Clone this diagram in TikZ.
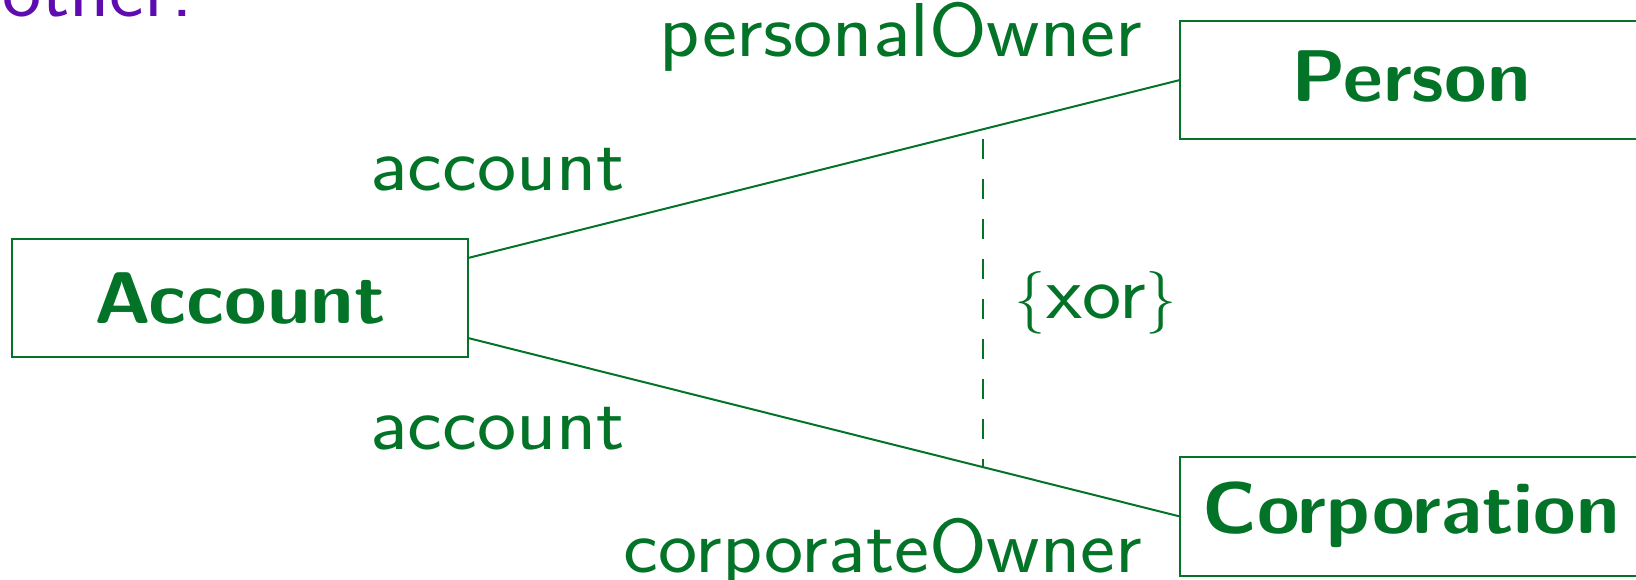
\documentclass[tikz,border=0pt]{standalone}
\usepackage{graphicx}
\usetikzlibrary{calc}
\definecolor{umlgreen}{RGB}{3,115,40}
\definecolor{slidepurple}{RGB}{94,12,178}
\newcommand\widereg[1]{\scalebox{1.09}[1]{#1}}
\newcommand\widebold[1]{\scalebox{1.06}[1]{#1}}
\newcommand\smallbrace[1]{\scalebox{0.82}{#1}}
\begin{document}
\begin{tikzpicture}[x=0.25pt,y=-0.25pt,
  every node/.style={inner sep=0pt,outer sep=0pt},
  classbox/.style={draw=umlgreen,line width=0.5pt,rectangle},
  classname/.style={text=umlgreen,font=\sffamily\bfseries\fontsize{18.3}{20}\selectfont},
  rolelabel/.style={text=umlgreen,font=\sffamily\fontsize{19.1}{22}\selectfont},
  assoc/.style={draw=umlgreen,line width=0.5pt},
  constraint/.style={draw=umlgreen,line width=0.5pt,dash pattern=on 5pt off 5pt}]
\useasboundingbox (0,0) rectangle (1636,579);
% slide text (cut off)
\node[text=slidepurple,font=\sffamily\fontsize{19.1}{22}\selectfont,anchor=base east] (other) at (193,16) {\widereg{other.}};
% classes
\node[classbox,classname,minimum width=114pt,minimum height=29.5pt] (account) at (240,298) {\widebold{Account}};
\node[classbox,minimum width=140pt,minimum height=29.6pt,anchor=west] (person) at (1180,80) {};
\node[classname,anchor=base] (persontext) at (1411,101) {\widebold{Person}};
\node[classbox,minimum width=140pt,minimum height=29.75pt,anchor=west] (corporation) at (1180,516.5) {};
\node[classname,anchor=base] (corptext) at (1411,533) {\widebold{Corporation}};
% associations
\coordinate (a1) at ([yshift=10pt]account.east);
\coordinate (a2) at ([yshift=-10pt]account.east);
\draw[assoc] (a1) -- (person.west);
\draw[assoc] (a2) -- (corporation.west);
% xor constraint
\coordinate (xt) at ($(a1)!0.7233!(person.west)$);
\coordinate (xb) at ($(a2)!0.7233!(corporation.west)$);
\draw[constraint] ([yshift=-2.43pt]xt) -- (xb);
\node[rolelabel,anchor=base] (xor) at (1096,318) {\smallbrace{\{}\widereg{xor}\smallbrace{\}}};
% role labels
\node[rolelabel,anchor=base east] (ownerP) at (1142,56) {\widereg{personalOwner}};
\node[rolelabel,anchor=base west] (accP) at (370,190) {\widereg{account}};
\node[rolelabel,anchor=base west] (accC) at (370,449) {\widereg{account}};
\node[rolelabel,anchor=base east] (ownerC) at (1142,572) {\widereg{corporateOwner}};
\end{tikzpicture}
\end{document}
